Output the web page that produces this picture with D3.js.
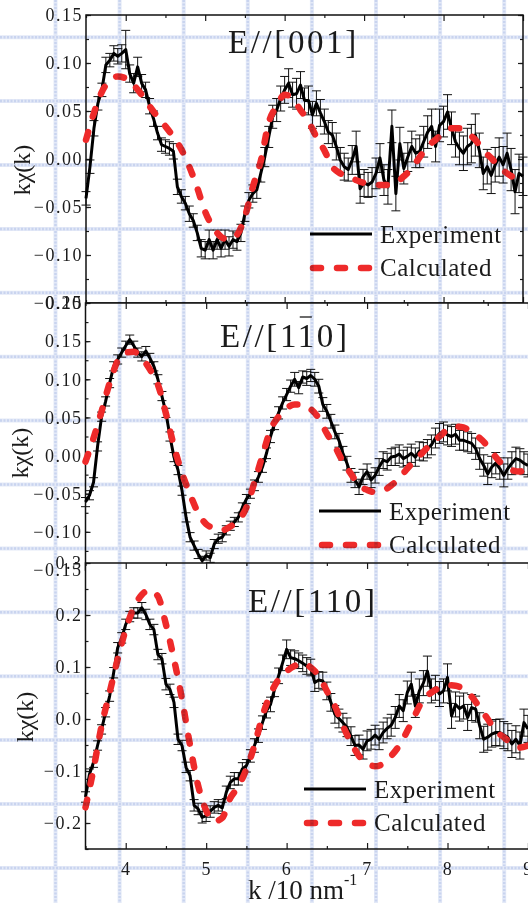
<!DOCTYPE html>
<html>
<head>
<meta charset="utf-8">
<script src="https://cdn.jsdelivr.net/npm/d3@7"></script>
<style>
  html, body { margin: 0; padding: 0; background: #fff; overflow: hidden; }
  svg { display: block; }
  text { font-family: "Liberation Serif", "Times New Roman", serif; fill: #1b1b1b; }
</style>
</head>
<body>
<svg id="chart" width="528" height="903"></svg>
<script>
// k grid (10 nm^-1) of the measured spectra and of the simulations
const kExp = [
  3.50,3.55,3.60,3.65,3.70,3.75,3.80,3.85,3.90,3.95,
  4.00,4.05,4.10,4.15,4.20,4.25,4.30,4.35,4.40,4.45,
  4.50,4.55,4.60,4.65,4.70,4.75,4.80,4.85,4.90,4.95,
  5.00,5.05,5.10,5.15,5.20,5.25,5.30,5.35,5.40,5.45,
  5.50,5.55,5.60,5.65,5.70,5.75,5.80,5.85,5.90,5.95,
  6.00,6.05,6.10,6.15,6.20,6.25,6.30,6.35,6.40,6.45,
  6.50,6.55,6.60,6.65,6.70,6.75,6.80,6.85,6.90,6.95,
  7.00,7.05,7.10,7.15,7.20,7.25,7.30,7.35,7.40,7.45,
  7.50,7.55,7.60,7.65,7.70,7.75,7.80,7.85,7.90,7.95,
  8.00,8.05,8.10,8.15,8.20,8.25,8.30,8.35,8.40,8.45,
  8.50,8.55,8.60,8.65,8.70,8.75,8.80,8.85,8.90,8.95,
  9.00
];
const kCalc = [
  3.5,3.6,3.7,3.8,3.9,4.0,4.1,4.2,4.3,4.4,
  4.5,4.6,4.7,4.8,4.9,5.0,5.1,5.2,5.3,5.4,
  5.5,5.6,5.7,5.8,5.9,6.0,6.1,6.2,6.3,6.4,
  6.5,6.6,6.7,6.8,6.9,7.0,7.1,7.2,7.3,7.4,
  7.5,7.6,7.7,7.8,7.9,8.0,8.1,8.2,8.3,8.4,
  8.5,8.6,8.7,8.8,8.9,9.0
];

// E//[001]
const exp001 = [
  -0.041,-0.008,0.032,0.058,0.072,0.098,0.103,0.110,0.107,0.110,
  0.114,0.089,0.079,0.096,0.079,0.072,0.055,0.042,0.027,0.015,
  0.013,0.011,0.008,-0.029,-0.039,-0.046,-0.057,-0.064,-0.077,-0.093,
  -0.095,-0.084,-0.095,-0.084,-0.093,-0.084,-0.091,-0.084,-0.086,-0.077,
  -0.057,-0.043,-0.036,-0.032,-0.015,0.002,0.023,0.044,0.051,0.063,
  0.072,0.079,0.067,0.068,0.077,0.061,0.061,0.046,0.058,0.048,
  0.039,0.028,0.025,0.013,-0.001,-0.008,-0.011,-0.001,0.013,-0.031,
  -0.025,-0.027,-0.024,-0.015,0.001,-0.022,-0.029,0.034,-0.036,0.016,
  -0.010,0.002,0.013,0.006,0.008,0.018,0.028,0.034,0.013,0.035,
  0.039,0.049,0.032,0.018,0.011,0.006,0.013,0.016,0.025,0.009,
  -0.015,-0.008,-0.017,-0.006,0.002,-0.006,0.006,-0.011,-0.034,-0.015,
  -0.018
];
const err001 = [
  0.007,0.007,0.008,0.007,0.007,0.008,0.007,0.008,0.008,0.009,
  0.020,0.009,0.010,0.010,0.009,0.008,0.008,0.008,0.007,0.007,
  0.007,0.007,0.008,0.008,0.007,0.007,0.008,0.007,0.008,0.009,
  0.009,0.010,0.009,0.010,0.009,0.010,0.010,0.009,0.009,0.009,
  0.008,0.008,0.009,0.009,0.009,0.010,0.011,0.012,0.012,0.013,
  0.014,0.015,0.013,0.016,0.014,0.013,0.015,0.014,0.013,0.014,
  0.013,0.012,0.013,0.014,0.013,0.014,0.012,0.015,0.016,0.015,
  0.014,0.013,0.015,0.016,0.015,0.016,0.018,0.017,0.018,0.017,
  0.016,0.015,0.016,0.015,0.017,0.016,0.017,0.018,0.016,0.017,
  0.016,0.018,0.017,0.016,0.017,0.018,0.019,0.020,0.022,0.018,
  0.017,0.018,0.019,0.018,0.020,0.019,0.021,0.022,0.023,0.020,
  0.020
];
const calc001 = [
  0.020,0.048,0.070,0.082,0.086,0.084,0.077,0.067,0.055,0.044,
  0.034,0.023,0.010,-0.008,-0.030,-0.055,-0.071,-0.081,-0.084,-0.079,
  -0.060,-0.029,-0.002,0.038,0.055,0.067,0.063,0.051,0.039,0.023,
  0.009,-0.008,-0.015,-0.018,-0.022,-0.025,-0.026,-0.027,-0.027,-0.025,
  -0.018,-0.010,0.002,0.013,0.020,0.027,0.032,0.032,0.027,0.020,
  0.009,0.001,-0.008,-0.015,-0.020,-0.024
];

// E//[1-10]
const exp1m10 = [
  -0.061,-0.052,-0.035,0.012,0.051,0.071,0.095,0.117,0.126,0.135,
  0.144,0.152,0.144,0.135,0.130,0.137,0.128,0.117,0.100,0.078,
  0.056,0.025,-0.002,-0.019,-0.046,-0.081,-0.107,-0.118,-0.129,-0.138,
  -0.131,-0.134,-0.116,-0.109,-0.107,-0.098,-0.092,-0.087,-0.081,-0.068,
  -0.057,-0.050,-0.039,-0.028,-0.015,0.003,0.025,0.042,0.056,0.069,
  0.080,0.091,0.100,0.089,0.103,0.101,0.105,0.100,0.091,0.067,
  0.058,0.045,0.031,0.020,0.003,-0.010,-0.026,-0.032,-0.041,-0.028,
  -0.021,-0.032,-0.026,-0.015,-0.006,-0.008,-0.002,-0.001,0.002,-0.004,
  -0.001,0.003,-0.002,0.006,0.005,0.009,0.014,0.023,0.029,0.031,
  0.027,0.025,0.028,0.020,0.020,0.018,0.016,0.009,-0.004,-0.013,
  -0.024,-0.015,-0.010,-0.017,-0.026,-0.017,-0.010,-0.004,-0.006,-0.010,
  -0.013
];
const err1m10 = [
  0.006,0.006,0.006,0.006,0.006,0.006,0.006,0.006,0.006,0.006,
  0.006,0.006,0.006,0.006,0.006,0.006,0.006,0.006,0.006,0.006,
  0.006,0.006,0.006,0.006,0.006,0.006,0.006,0.006,0.006,0.006,
  0.006,0.006,0.006,0.006,0.006,0.006,0.006,0.006,0.006,0.006,
  0.006,0.006,0.007,0.007,0.007,0.007,0.008,0.008,0.008,0.008,
  0.008,0.008,0.009,0.008,0.008,0.009,0.008,0.009,0.009,0.009,
  0.009,0.009,0.009,0.009,0.009,0.009,0.009,0.010,0.010,0.010,
  0.010,0.010,0.010,0.011,0.011,0.011,0.011,0.012,0.012,0.011,
  0.012,0.012,0.012,0.012,0.012,0.012,0.013,0.013,0.013,0.013,
  0.013,0.013,0.013,0.013,0.013,0.013,0.013,0.014,0.014,0.014,
  0.014,0.014,0.014,0.014,0.015,0.014,0.015,0.015,0.015,0.015,
  0.015
];
const calc1m10 = [
  -0.008,0.023,0.058,0.095,0.124,0.135,0.136,0.128,0.113,0.093,
  0.055,0.012,-0.023,-0.051,-0.075,-0.090,-0.095,-0.098,-0.093,-0.085,
  -0.068,-0.035,0.000,0.034,0.051,0.062,0.067,0.067,0.061,0.049,
  0.029,0.012,-0.008,-0.024,-0.039,-0.045,-0.048,-0.046,-0.039,-0.030,
  -0.017,-0.006,0.005,0.016,0.025,0.034,0.038,0.037,0.029,0.023,
  0.012,-0.002,-0.013,-0.019,-0.021,-0.015
];

// E//[110]
const exp110 = [
  -0.150,-0.106,-0.083,-0.051,-0.020,0.013,0.044,0.089,0.137,0.156,
  0.182,0.197,0.204,0.204,0.214,0.201,0.182,0.172,0.124,0.116,
  0.067,0.057,0.032,-0.039,-0.051,-0.093,-0.109,-0.166,-0.173,-0.189,
  -0.186,-0.178,-0.170,-0.166,-0.171,-0.141,-0.122,-0.115,-0.115,-0.096,
  -0.090,-0.071,-0.051,-0.032,-0.007,0.016,0.028,0.057,0.083,0.108,
  0.134,0.118,0.116,0.112,0.107,0.102,0.099,0.070,0.075,0.073,
  0.054,0.032,0.009,0.001,-0.007,-0.016,-0.033,-0.051,-0.050,-0.058,
  -0.042,-0.039,-0.031,-0.039,-0.026,-0.018,-0.012,0.003,0.025,0.016,
  0.051,0.067,0.025,0.054,0.069,0.092,0.054,0.060,0.048,0.054,
  0.080,0.006,0.028,0.020,0.025,0.003,0.022,0.019,-0.013,-0.039,
  -0.035,-0.029,-0.026,-0.026,-0.031,-0.035,-0.048,-0.039,-0.051,-0.007,
  -0.019
];
const err110 = [
  0.010,0.010,0.010,0.009,0.009,0.009,0.010,0.010,0.010,0.010,
  0.010,0.010,0.010,0.010,0.010,0.010,0.010,0.010,0.010,0.010,
  0.011,0.010,0.010,0.010,0.010,0.010,0.010,0.011,0.011,0.011,
  0.011,0.011,0.011,0.011,0.011,0.012,0.012,0.012,0.012,0.012,
  0.012,0.012,0.013,0.013,0.013,0.014,0.014,0.014,0.015,0.015,
  0.018,0.015,0.015,0.015,0.016,0.016,0.016,0.017,0.016,0.017,
  0.017,0.017,0.017,0.018,0.018,0.018,0.018,0.019,0.019,0.019,
  0.019,0.019,0.019,0.020,0.020,0.020,0.021,0.021,0.022,0.021,
  0.022,0.023,0.022,0.023,0.024,0.029,0.023,0.024,0.024,0.023,
  0.026,0.024,0.024,0.024,0.025,0.025,0.025,0.025,0.025,0.025,
  0.025,0.025,0.025,0.026,0.026,0.026,0.026,0.026,0.026,0.026,
  0.026
];
const calc110 = [
  -0.170,-0.096,-0.013,0.051,0.115,0.172,0.214,0.239,0.248,0.236,
  0.182,0.115,0.038,-0.051,-0.128,-0.176,-0.197,-0.190,-0.152,-0.130,
  -0.096,-0.051,0.006,0.048,0.076,0.092,0.102,0.108,0.099,0.083,
  0.054,0.025,-0.013,-0.045,-0.071,-0.085,-0.091,-0.086,-0.071,-0.051,
  -0.023,0.009,0.038,0.051,0.060,0.065,0.064,0.057,0.043,0.022,
  0.000,-0.023,-0.035,-0.048,-0.055,-0.051
];

// axis ticks
const xTicks = [4, 5, 6, 7, 8, 9];
const xMinor = [3.5, 4.5, 5.5, 6.5, 7.5, 8.5];
const yTicks001 = [-0.15, -0.10, -0.05, 0.00, 0.05, 0.10, 0.15];
const yTicks1m10 = [-0.15, -0.10, -0.05, 0.00, 0.05, 0.10, 0.15, 0.20];
const yTicks110 = [-0.2, -0.1, 0.0, 0.1, 0.2, 0.3];
const legendNames = ["Experiment", "Calculated"];

const RED = "#ee2a2a";
const svg = d3.select("#chart");
svg.append("rect").attr("width", 528).attr("height", 903).attr("fill", "#fff");

// three stacked panels (layout only)
const panels = [
  { title: "E//[001]", bar: -1, exp: exp001, err: err001, calc: calc001,
    left: 86, right: 523, xMax: 9.0, top: 15, bottom: 303, yDom: [-0.15, 0.15],
    yTicks: yTicks001, yStep: 0.025, fmt: ".2f",
    titleX: 228, titleY: 53, legX: 310, legY: 234, textX: 380, ylabX: 30, ylabY: 170 },
  { title: "E//[110]", bar: 5, exp: exp1m10, err: err1m10, calc: calc1m10,
    left: 85.5, right: 536, xMax: 9.1, top: 303, bottom: 570, yDom: [-0.15, 0.20],
    yTicks: yTicks1m10, yStep: 0.025, fmt: ".2f",
    titleX: 220, titleY: 347, legX: 319, legY: 511, textX: 389, ylabX: 28, ylabY: 453 },
  { title: "E//[110]", bar: -1, exp: exp110, err: err110, calc: calc110,
    left: 85.5, right: 536, xMax: 9.1, top: 563, bottom: 849, yDom: [-0.25, 0.30],
    yTicks: yTicks110, yStep: 0.05, fmt: ".1f", xLabels: true,
    titleX: 248, titleY: 612, legX: 304, legY: 789, textX: 374, ylabX: 33, ylabY: 717 }
];

function styleAxis(g, size) {
  g.select(".domain").remove();
  g.selectAll(".tick line").attr("stroke", "#1b1b1b").attr("stroke-width", 1.2);
  g.selectAll("text")
    .attr("fill", "#1b1b1b")
    .style("font-family", '"Liberation Serif", serif')
    .style("font-size", size + "px")
    .style("letter-spacing", "1.5px");
  g.attr("font-family", null).attr("font-size", null);
}

panels.forEach(p => {
  const x = d3.scaleLinear().domain([3.5, p.xMax]).range([p.left, p.right]);
  const y = d3.scaleLinear().domain(p.yDom).range([p.bottom, p.top]);
  const g = svg.append("g");

  g.append("rect")
    .attr("x", p.left).attr("y", p.top)
    .attr("width", p.right - p.left).attr("height", p.bottom - p.top)
    .attr("fill", "#fff");

  // minor y ticks
  const nMinor = Math.round((p.yDom[1] - p.yDom[0]) / p.yStep);
  const yMinor = d3.range(nMinor + 1).map(i => +(p.yDom[0] + i * p.yStep).toFixed(4));
  const fmt = d3.format(p.fmt);

  g.append("g").attr("transform", `translate(${p.left},0)`)
    .call(d3.axisLeft(y).tickValues(yMinor).tickSize(-3).tickFormat(""))
    .call(a => styleAxis(a, 18));
  g.append("g").attr("transform", `translate(${p.right},0)`)
    .call(d3.axisRight(y).tickValues(yMinor).tickSize(-3).tickFormat(""))
    .call(a => styleAxis(a, 18));
  g.append("g").attr("transform", `translate(${p.left},0)`)
    .call(d3.axisLeft(y).tickValues(p.yTicks).tickSize(-5).tickPadding(3).tickFormat(fmt))
    .call(a => styleAxis(a, 18));
  g.append("g").attr("transform", `translate(${p.right},0)`)
    .call(d3.axisRight(y).tickValues(p.yTicks).tickSize(-5).tickFormat(""))
    .call(a => styleAxis(a, 18));

  // x ticks on top and bottom
  g.append("g").attr("transform", `translate(0,${p.top})`)
    .call(d3.axisTop(x).tickValues(xTicks).tickSize(-6).tickFormat(""))
    .call(a => styleAxis(a, 18));
  g.append("g").attr("transform", `translate(0,${p.top})`)
    .call(d3.axisTop(x).tickValues(xMinor).tickSize(-3).tickFormat(""))
    .call(a => styleAxis(a, 18));
  g.append("g").attr("transform", `translate(0,${p.bottom})`)
    .call(d3.axisBottom(x).tickValues(xTicks).tickSize(-6).tickPadding(13)
      .tickFormat(p.xLabels ? d3.format("d") : ""))
    .call(a => styleAxis(a, 18));
  g.append("g").attr("transform", `translate(0,${p.bottom})`)
    .call(d3.axisBottom(x).tickValues(xMinor).tickSize(-3).tickFormat(""))
    .call(a => styleAxis(a, 18));

  // frame
  g.append("rect")
    .attr("x", p.left).attr("y", p.top)
    .attr("width", p.right - p.left).attr("height", p.bottom - p.top)
    .attr("fill", "none").attr("stroke", "#111").attr("stroke-width", 1.5);

  // error bars
  const pts = kExp.map((k, i) => ({ k, v: p.exp[i], e: p.err[i] }));
  const eb = g.append("g").attr("stroke", "#111").attr("stroke-width", 1).attr("fill", "none");
  eb.selectAll("path").data(pts).join("path")
    .attr("d", d => {
      const cx = x(d.k), y1 = y(d.v + d.e), y2 = y(d.v - d.e);
      return `M${cx},${y1}V${y2}M${cx - 4.5},${y1}H${cx + 4.5}M${cx - 4.5},${y2}H${cx + 4.5}`;
    });

  // measured spectrum
  g.append("path").datum(pts)
    .attr("fill", "none").attr("stroke", "#000").attr("stroke-width", 3)
    .attr("stroke-linejoin", "round")
    .attr("d", d3.line().x(d => x(d.k)).y(d => y(d.v)));

  // simulated spectrum
  const cpts = kCalc.map((k, i) => ({ k, v: p.calc[i] }));
  g.append("path").datum(cpts)
    .attr("fill", "none").attr("stroke", RED).attr("stroke-width", 6.5)
    .attr("stroke-linecap", "round").attr("stroke-dasharray", "8,16")
    .attr("d", d3.line().curve(d3.curveMonotoneX).x(d => x(d.k)).y(d => y(d.v)));

  // title
  const t = g.append("text")
    .attr("x", p.titleX).attr("y", p.titleY)
    .style("font-size", "33px").style("letter-spacing", "2.6px")
    .text(p.title);
  if (p.bar >= 0) {
    const ext = t.node().getExtentOfChar(p.bar);
    g.append("line")
      .attr("x1", ext.x + 2).attr("x2", ext.x + ext.width - 5)
      .attr("y1", ext.y - 1).attr("y2", ext.y - 1)
      .attr("stroke", "#1b1b1b").attr("stroke-width", 1.3);
  }

  // legend
  const lg = g.append("g");
  lg.append("line").attr("x1", p.legX).attr("x2", p.legX + 62)
    .attr("y1", p.legY).attr("y2", p.legY)
    .attr("stroke", "#000").attr("stroke-width", 3.2);
  lg.append("line").attr("x1", p.legX + 3).attr("x2", p.legX + 62)
    .attr("y1", p.legY + 34).attr("y2", p.legY + 34)
    .attr("stroke", RED).attr("stroke-width", 6.5)
    .attr("stroke-linecap", "round").attr("stroke-dasharray", "8,16");
  lg.selectAll("text").data(legendNames).join("text")
    .attr("x", p.textX).attr("y", (d, i) => p.legY + 9 + i * 33)
    .style("font-size", "25px").style("letter-spacing", "0.5px")
    .text(d => d);

  // y label
  g.append("text")
    .attr("transform", `translate(${p.ylabX},${p.ylabY}) rotate(-90)`)
    .attr("text-anchor", "middle")
    .style("font-size", "24px")
    .text("kχ(k)");
});

// x label
const xl = svg.append("text").attr("x", 248).attr("y", 899).style("font-size", "27px");
xl.append("tspan").text("k /10 nm");
xl.append("tspan").attr("dy", -14).style("font-size", "16px").text("-1");

// light-blue ruled background grid
const grid = svg.append("g").style("mix-blend-mode", "multiply")
  .attr("fill", "none");
function ruled(x1, y1, x2, y2) {
  grid.append("line").attr("x1", x1).attr("y1", y1).attr("x2", x2).attr("y2", y2)
    .attr("stroke", "#e3e9f7").attr("stroke-width", 4);
  grid.append("line").attr("x1", x1).attr("y1", y1).attr("x2", x2).attr("y2", y2)
    .attr("stroke", "#c9d4ef").attr("stroke-width", 2.5)
    .attr("stroke-dasharray", "2,1.5");
}
d3.range(8).forEach(i => {
  const gx = 55.5 + i * 64.1;
  ruled(gx, 0, gx, 903);
});
d3.range(14).forEach(i => {
  const gy = 37.2 + i * 63.9;
  ruled(0, gy, 528, gy);
});
</script>
</body>
</html>
